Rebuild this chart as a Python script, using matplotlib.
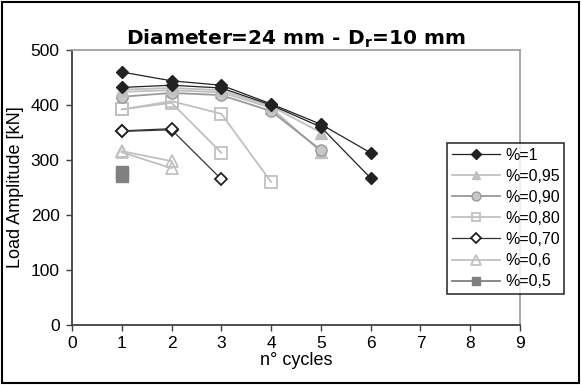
import matplotlib
matplotlib.use("Agg")
import matplotlib.pyplot as plt
from matplotlib.patches import Rectangle

plt.rcParams["font.family"] = ["Liberation Sans", "DejaVu Sans"]

# ---- data ----
cycles_1a = [1, 2, 3, 4, 5, 6]
load_1a = [460, 444, 436, 402, 365, 313]
cycles_1b = [1, 2, 3, 4, 5, 6]
load_1b = [432, 436, 431, 400, 360, 267]

cycles_095a = [1, 2, 3, 4, 5]
load_095a = [428, 431, 427, 398, 350]
cycles_095b = [1, 2, 3, 4, 5]
load_095b = [424, 427, 423, 395, 315]

cycles_090 = [1, 2, 3, 4, 5]
load_090 = [415, 422, 418, 389, 318]

cycles_080a = [1, 2, 3, 4]
load_080a = [392, 407, 384, 260]
cycles_080b = [1, 2, 3]
load_080b = [392, 404, 313]

cycles_070a = [1, 2, 3]
load_070a = [352, 355, 265]
cycles_070b = [1, 2]
load_070b = [353, 357]

cycles_06a = [1, 2]
load_06a = [316, 298]
cycles_06b = [1, 2]
load_06b = [314, 285]

cycles_05a = [1]
load_05a = [279]
cycles_05b = [1]
load_05b = [271]

labels = ["%=1", "%=0,95", "%=0,90", "%=0,80", "%=0,70", "%=0,6", "%=0,5"]
x_ticks = list(range(0, 10))
y_ticks = [0, 100, 200, 300, 400, 500]

fig = plt.figure(figsize=(5.81, 3.85), dpi=100)
ax = fig.add_axes([0.124, 0.156, 0.771, 0.714])

styles = {
    "1": dict(color="#222222", marker="D", markersize=6, markerfacecolor="#222222", markeredgecolor="#222222", lw=0.9),
    "095": dict(color="#c0c0c0", marker="^", markersize=8, markerfacecolor="#c0c0c0", markeredgecolor="#c0c0c0", lw=1.3),
    "090": dict(color="#999999", marker="o", markersize=8, markerfacecolor="#c8c8c8", markeredgecolor="#999999", lw=1.3),
    "080": dict(color="#c0c0c0", marker="s", markersize=8, markerfacecolor="none", markeredgecolor="#c0c0c0", markeredgewidth=1.3, lw=1.3),
    "070": dict(color="#333333", marker="D", markersize=6, markerfacecolor="white", markeredgecolor="#222222", markeredgewidth=1.3, lw=0.9),
    "06": dict(color="#c0c0c0", marker="^", markersize=9, markerfacecolor="none", markeredgecolor="#c0c0c0", markeredgewidth=1.3, lw=1.3),
    "05": dict(color="#808080", marker="s", markersize=8, markerfacecolor="#808080", markeredgecolor="#808080", lw=1.3),
}

h = {}
h["1"], = ax.plot(cycles_1a, load_1a, **styles["1"], zorder=5)
ax.plot(cycles_1b, load_1b, **styles["1"], zorder=5)
h["095"], = ax.plot(cycles_095a, load_095a, **styles["095"], zorder=4)
ax.plot(cycles_095b, load_095b, **styles["095"], zorder=3)
h["090"], = ax.plot(cycles_090, load_090, **styles["090"], zorder=3.5)
h["080"], = ax.plot(cycles_080a, load_080a, **styles["080"], zorder=2)
ax.plot(cycles_080b, load_080b, **styles["080"], zorder=2)
h["070"], = ax.plot(cycles_070a, load_070a, **styles["070"], zorder=2)
ax.plot(cycles_070b, load_070b, **styles["070"], zorder=2)
h["06"], = ax.plot(cycles_06a, load_06a, **styles["06"], zorder=2)
ax.plot(cycles_06b, load_06b, **styles["06"], zorder=2)
h["05"], = ax.plot(cycles_05a, load_05a, **styles["05"], zorder=2)
ax.plot(cycles_05b, load_05b, **styles["05"], zorder=2)

ax.set_xlim(0, 9)
ax.set_ylim(0, 500)
ax.set_xticks(x_ticks)
ax.set_yticks(y_ticks)
ax.tick_params(axis="both", labelsize=12.5, length=4, width=1, color="#404040")
ax.tick_params(axis="x", pad=4)
ax.tick_params(axis="y", pad=5)
for s in ["left", "bottom"]:
    ax.spines[s].set_color("#404040")
    ax.spines[s].set_linewidth(1.3)
for s in ["top", "right"]:
    ax.spines[s].set_color("#a0a0a0")
    ax.spines[s].set_linewidth(1.3)

ax.set_xlabel("n° cycles", fontsize=13, labelpad=1)
ax.set_ylabel("Load Amplitude [kN]", fontsize=13, labelpad=5)
ax.set_title("Diameter=24 mm - D$_\\mathregular{r}$=10 mm", fontsize=14.5, fontweight="bold",
             family="DejaVu Sans", pad=4)

leg = ax.legend([h[k] for k in ["1", "095", "090", "080", "070", "06", "05"]], labels,
                loc="upper left", bbox_to_anchor=(0.838, 0.662), fontsize=11.5,
                frameon=True, fancybox=False, edgecolor="black", handlelength=3.0,
                handletextpad=0.3, labelspacing=0.38, borderpad=0.3, markerscale=0.8,
                borderaxespad=0)
leg.get_frame().set_linewidth(1.2)

fig.patches.append(Rectangle((0.004, 0.006), 0.992, 0.988, transform=fig.transFigure,
                             fill=False, edgecolor="black", linewidth=1.5))

fig.savefig("out.png", dpi=100)
